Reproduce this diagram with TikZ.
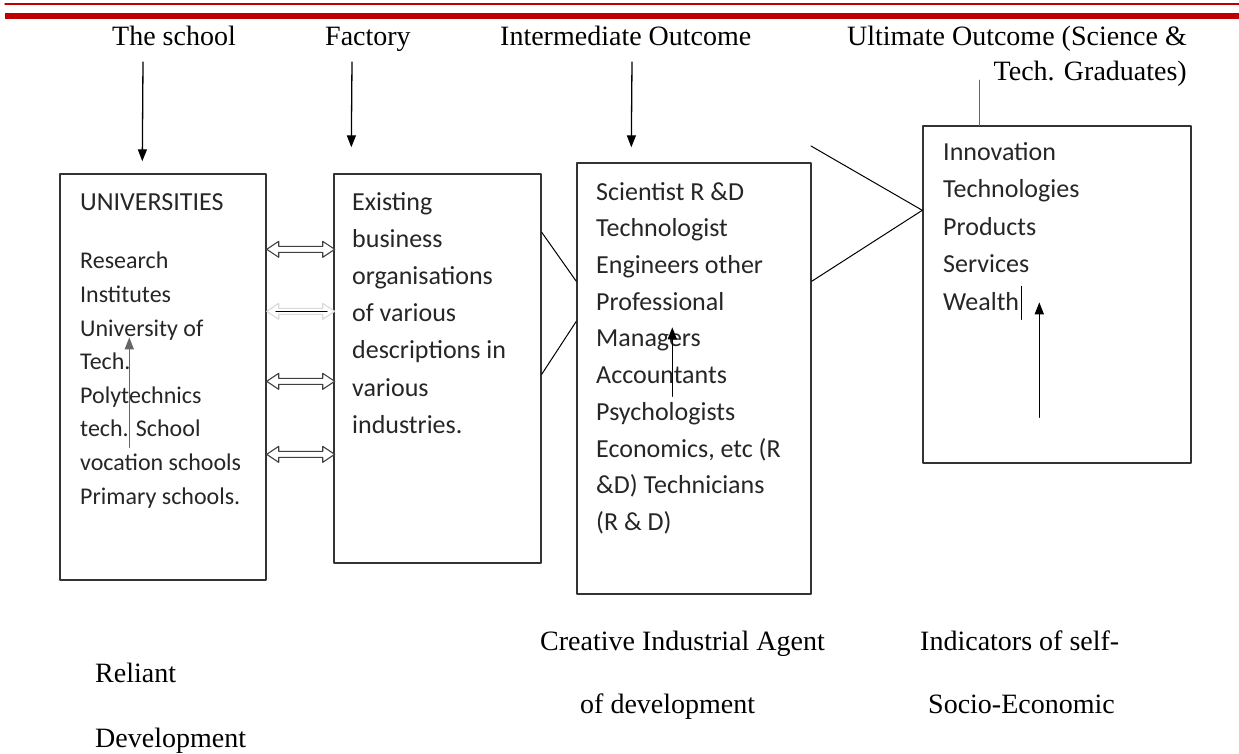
\documentclass[tikz,border=0pt]{standalone}
\usepackage{fontspec}
\setmainfont{Liberation Serif}
\newfontfamily\calibri{Carlito}
\usetikzlibrary{calc}
\usetikzlibrary{arrows.meta}
\definecolor{barred}{rgb}{0.75,0.,0.}
\definecolor{boxgray}{rgb}{0.2,0.2,0.2}
\tikzstyle{every node}=[inner sep=0pt]
\tikzstyle{lbl}=[font=\fontsize{28}{32}\selectfont,anchor=base west]
\tikzstyle{box}=[draw=boxgray,line width=1.4pt]
\tikzstyle{boxtext}=[font=\calibri\fontsize{26}{37.2}\selectfont,align=left,anchor=north west,text=black!85]
\tikzset{dblarrow/.pic={
  \draw[line width=1.1pt,fill=white] (0,0) -- (12,-8) -- (12,-3) -- (56,-3) -- (56,-8) -- (68,0) -- (56,8) -- (56,3) -- (12,3) -- (12,8) -- cycle;
}}

\begin{document}
\begin{tikzpicture}[line cap=round,line join=round,>={Triangle[length=12pt,width=9pt]},x=1pt,y=-1pt]
            \useasboundingbox (0,0) rectangle (1239,753);
            \fill[barred] (5,13) rectangle (1239,19);
            \draw[barred,line width=1.5pt] (5,4) -- (1239,4);
            % headings
            \node[lbl] (school) at (112,45) {The school};
            \node[lbl] (factory) at (325,45) {Factory};
            \node[lbl] (inter) at (500,45) {Intermediate Outcome};
            \node[lbl,anchor=base east] (ult) at (1187,45) {Ultimate Outcome (Science \&};
            \node[lbl,anchor=base east] (ultb) at (1187,80) {Tech. Graduates)};
            % boxes
            \node[box,minimum width=206,minimum height=406] (uni) at (163,377) {};
            \node[box,minimum width=207,minimum height=389] (fact) at (437.5,368.5) {};
            \node[box,minimum width=234,minimum height=431] (agents) at (694,378.5) {};
            \node[box,minimum width=268,minimum height=337] (outcome) at (1057,294.5) {};
            \node[font=\calibri\fontsize{26}{30}\selectfont,anchor=base west,text=black!85] (unihead) at (80,210) {UNIVERSITIES};
            \node[boxtext,font=\calibri\fontsize{24}{33.6}\selectfont] (unilist) at (80,252) {Research\\Institutes\\University of\\Tech.\\Polytechnics\\tech. School\\vocation schools\\Primary schools.};
            \node[boxtext] (facttext) at (352,192) {Existing\\business\\organisations\\of various\\descriptions in\\various\\industries.};
            \node[boxtext,font=\calibri\fontsize{26}{36.7}\selectfont] (agentstext) at (596,182) {Scientist R \&D\\Technologist\\Engineers other\\Professional\\Managers\\Accountants\\Psychologists\\Economics, etc (R\\\&D) Technicians\\(R \& D)};
            \node[boxtext,font=\calibri\fontsize{26}{37.5}\selectfont] (outtext) at (943,142) {Innovation\\Technologies\\Products\\Services\\Wealth};
            % arrows from headings
            \coordinate (s1) at (143,62);
            \coordinate (s2) at (352,62);
            \coordinate (s3) at (632,62);
            \draw [->,line width=1.3pt] (s1) -- ($(uni.north west)+(83,-12)$);
            \draw [->,line width=1.3pt] (s2) -- ($(fact.north west)+(18,-26)$);
            \draw [->,line width=1.3pt] (s3) -- ($(agents.north west)+(55,-15)$);
            \draw [line width=1pt,color=black!60] (979,80) -- (outcome.north west -| 979,0);
            % links between boxes
            \pic[draw=black!75] at ($(uni.north east)+(0,76)$) {dblarrow};
            \pic[draw=black!15] at ($(uni.north east)+(0,138)$) {dblarrow};
            \draw [line width=0.6pt] ($(uni.north east)+(9,138)$) -- ($(fact.north west)+(-6,138)$);
            \pic[draw=black!75] at ($(uni.north east)+(0,208)$) {dblarrow};
            \pic[draw=black!75] at ($(uni.north east)+(0,281)$) {dblarrow};
            \draw [line width=1pt] ($(fact.north east)+(0,59)$) -- ($(agents.north west)+(0,119)$);
            \draw [line width=1pt] ($(fact.north east)+(0,201)$) -- ($(agents.north west)+(0,159)$);
            \coordinate (t1) at (811,146);
            \draw [line width=1pt] (t1) -- ($(outcome.north west)+(0,85)$);
            \draw [line width=1pt] ($(agents.north east)+(0,119)$) -- ($(outcome.north west)+(0,85)$);
            % arrows inside the boxes
            \draw [->,line width=1.3pt,color=black!60] ($(uni.north west)+(70,274)$) -- ($(uni.north west)+(70,164)$);
            \draw [->,line width=1.3pt] ($(agents.north west)+(96,234)$) -- ($(agents.north west)+(96,165)$);
            \draw [->,line width=1.3pt] ($(outcome.north west)+(117,292)$) -- ($(outcome.north west)+(117,177)$);
            \draw [line width=1pt] ($(outcome.north west)+(99,161)$) -- ($(outcome.north west)+(99,194)$);
            % bottom texts
            \node[lbl] (creative) at (540,650) {Creative Industrial Agent};
            \node[lbl] (ofdev) at (580,713) {of development};
            \node[lbl] (indic) at (920,650) {Indicators of self-};
            \node[lbl] (socio) at (928,713) {Socio-Economic};
            \node[lbl] (reliant) at (95,682) {Reliant};
            \node[lbl] (devel) at (95,747) {Development};
\end{tikzpicture}
\end{document}
